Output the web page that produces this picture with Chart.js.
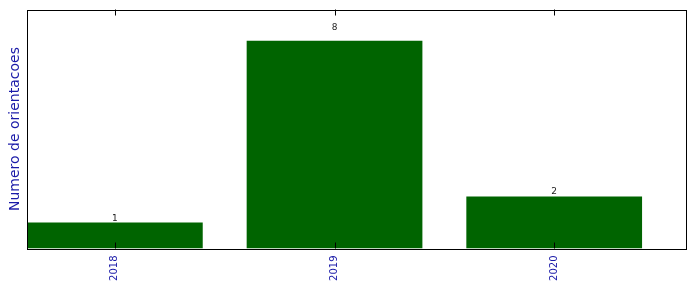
<!DOCTYPE html>
<html>
<head>
<meta charset="utf-8">
<script src="https://cdn.jsdelivr.net/npm/chart.js@4"></script>
<style>
  html, body { margin: 0; padding: 0; background: #fff; }
  #wrap { width: 696px; height: 292px; }
</style>
</head>
<body>
<div id="wrap"><canvas id="chart"></canvas></div>
<script>
const years = ['2018', '2019', '2020'];
const counts = [1, 8, 2];
const yMax = 9.2;

const labelBlue = '#1a1aa8';
const barGreen = '#006400';

// matplotlib style: bars start at i, width 0.8, tick at the bar centre
const barX = years.map((y, i) => i + 0.4);

const frame = {
    id: 'frame',
    afterDatasetsDraw(chart) {
        const ctx = chart.ctx;
        const a = chart.chartArea;
        const xs = chart.scales.x;
        const ys = chart.scales.y;
        ctx.save();
        ctx.strokeStyle = '#000';
        ctx.lineWidth = 1;
        // inward ticks top and bottom
        ctx.beginPath();
        barX.forEach(v => {
            const px = Math.round(xs.getPixelForValue(v)) + 0.5;
            ctx.moveTo(px, a.bottom);
            ctx.lineTo(px, a.bottom - 6);
            ctx.moveTo(px, a.top);
            ctx.lineTo(px, a.top + 6);
        });
        ctx.stroke();
        ctx.strokeRect(Math.round(a.left) + 0.5, Math.round(a.top) + 0.5,
            Math.round(a.right - a.left), Math.round(a.bottom - a.top));

        // value labels above bars
        ctx.fillStyle = '#222';
        ctx.font = '9px "DejaVu Sans"';
        ctx.textAlign = 'center';
        ctx.textBaseline = 'alphabetic';
        counts.forEach((c, i) => {
            ctx.fillText(String(c), xs.getPixelForValue(barX[i]), ys.getPixelForValue(c * 1.05));
        });

        // y label
        ctx.fillStyle = labelBlue;
        ctx.font = '14px "DejaVu Sans"';
        ctx.textBaseline = 'middle';
        ctx.translate(15, (a.top + a.bottom) / 2);
        ctx.rotate(-Math.PI / 2);
        ctx.fillText('Numero de orientacoes', 0, 0);
        ctx.restore();
    }
};

new Chart(document.getElementById('chart'), {
    type: 'bar',
    data: {
        datasets: [{
            data: barX.map((x, i) => ({ x: x, y: counts[i] })),
            backgroundColor: barGreen,
            borderWidth: 0,
            barPercentage: 0.8,
            categoryPercentage: 1.0
        }]
    },
    options: {
        responsive: true,
        maintainAspectRatio: false,
        animation: false,
        layout: { padding: { top: 9.5, right: 10, left: 0, bottom: 0 } },
        plugins: {
            legend: { display: false },
            tooltip: { enabled: false }
        },
        scales: {
            x: {
                type: 'linear',
                min: 0,
                max: 3,
                offset: false,
                afterBuildTicks: scale => { scale.ticks = barX.map(v => ({ value: v })); },
                afterFit: scale => { scale.height = 43.5; },
                grid: { display: false, drawTicks: false },
                border: { display: false },
                ticks: {
                    minRotation: 90,
                    maxRotation: 90,
                    padding: 7,
                    color: labelBlue,
                    font: { family: 'DejaVu Sans', size: 10 },
                    callback: (v, i) => years[i]
                }
            },
            y: {
                min: 0,
                max: yMax,
                afterFit: scale => { scale.width = 27; },
                grid: { display: false, drawTicks: false },
                border: { display: false },
                ticks: { display: false }
            }
        }
    },
    plugins: [frame]
});
</script>
</body>
</html>
